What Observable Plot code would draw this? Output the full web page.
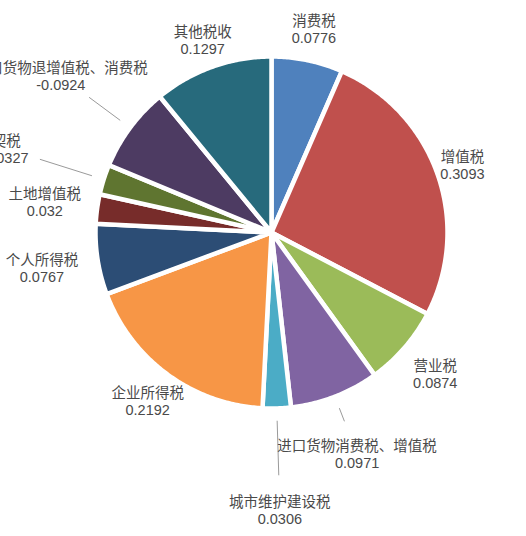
<!DOCTYPE html>
<html><head><meta charset="utf-8">
<script src="https://cdn.jsdelivr.net/npm/d3@7"></script>
<script src="https://cdn.jsdelivr.net/npm/@observablehq/plot@0.6"></script>
<style>html,body{margin:0;padding:0;background:#fff}svg{display:block}</style>
</head><body><div id="chart"></div>
<script>
const categories = ["消费税","增值税","营业税","进口货物消费税、增值税","城市维护建设税","企业所得税","个人所得税","土地增值税","契税","出口货物退增值税、消费税","其他税收"];
const values = [0.0776,0.3093,0.0874,0.0971,0.0306,0.2192,0.0767,0.032,0.0327,-0.0924,0.1297];
const colors = ["#4f81bd","#c0504d","#9bbb59","#8064a2","#4bacc6","#f79646","#2c4d75","#772c2a","#5f7530","#4d3b62","#276a7c"];

// layout (label distance from centre in radius units, and which labels get a leader line)
const labelRadius = [1.18,1.15,1.23,1.35,1.58,1.19,1.32,1.30,1.58,1.49,1.16];
const hasLeader = [false,false,false,true,true,false,false,false,true,true,false];

const rows = categories.map((name, i) => ({name, value: values[i], i}));
const arcs = d3.pie().sort(null).value(d => Math.abs(d.value))(rows);

const wedgePts = [];
for (const a of arcs) {
  const n = Math.max(4, Math.ceil((a.endAngle - a.startAngle) / 0.01));
  wedgePts.push({name: a.data.name, x: 0, y: 0});
  for (let k = 0; k <= n; k++) {
    const t = a.startAngle + (a.endAngle - a.startAngle) * k / n;
    wedgePts.push({name: a.data.name, x: Math.sin(t), y: Math.cos(t)});
  }
  wedgePts.push({name: a.data.name, x: 0, y: 0});
}

const labels = arcs.map(a => {
  const m = (a.startAngle + a.endAngle) / 2, r = labelRadius[a.data.i];
  return {name: a.data.name, text: a.data.name + "\n" + String(a.data.value), x: r * Math.sin(m), y: r * Math.cos(m)};
});
const leaders = arcs.filter(a => hasLeader[a.data.i]).map(a => {
  const m = (a.startAngle + a.endAngle) / 2, r = labelRadius[a.data.i] - 0.2;
  return {x1: 1.07 * Math.sin(m), y1: 1.07 * Math.cos(m), x2: r * Math.sin(m), y2: r * Math.cos(m)};
});

const chart = Plot.plot({
  width: 526, height: 536,
  marginLeft: 95, marginRight: 79, marginTop: 56, marginBottom: 128,
  x: {domain: [-1, 1], axis: null},
  y: {domain: [-1, 1], axis: null},
  color: {domain: categories, range: colors},
  style: {fontFamily: "'Liberation Sans','Noto Sans CJK SC',sans-serif", background: "#fff", overflow: "visible"},
  marks: [
    Plot.line(wedgePts, {x: "x", y: "y", z: "name", fill: "name", stroke: "white", strokeWidth: 4.5, strokeLinejoin: "round"}),
    Plot.link(leaders, {x1: "x1", y1: "y1", x2: "x2", y2: "y2", stroke: "#9a9a9a", strokeWidth: 1}),
    Plot.text(labels, {x: "x", y: "y", text: "text", fontSize: 14.5, lineHeight: 1.17, fill: "#4a4a4a", textAnchor: "middle", lineAnchor: "middle"})
  ]
});
document.getElementById("chart").appendChild(chart);
</script>
</body></html>
